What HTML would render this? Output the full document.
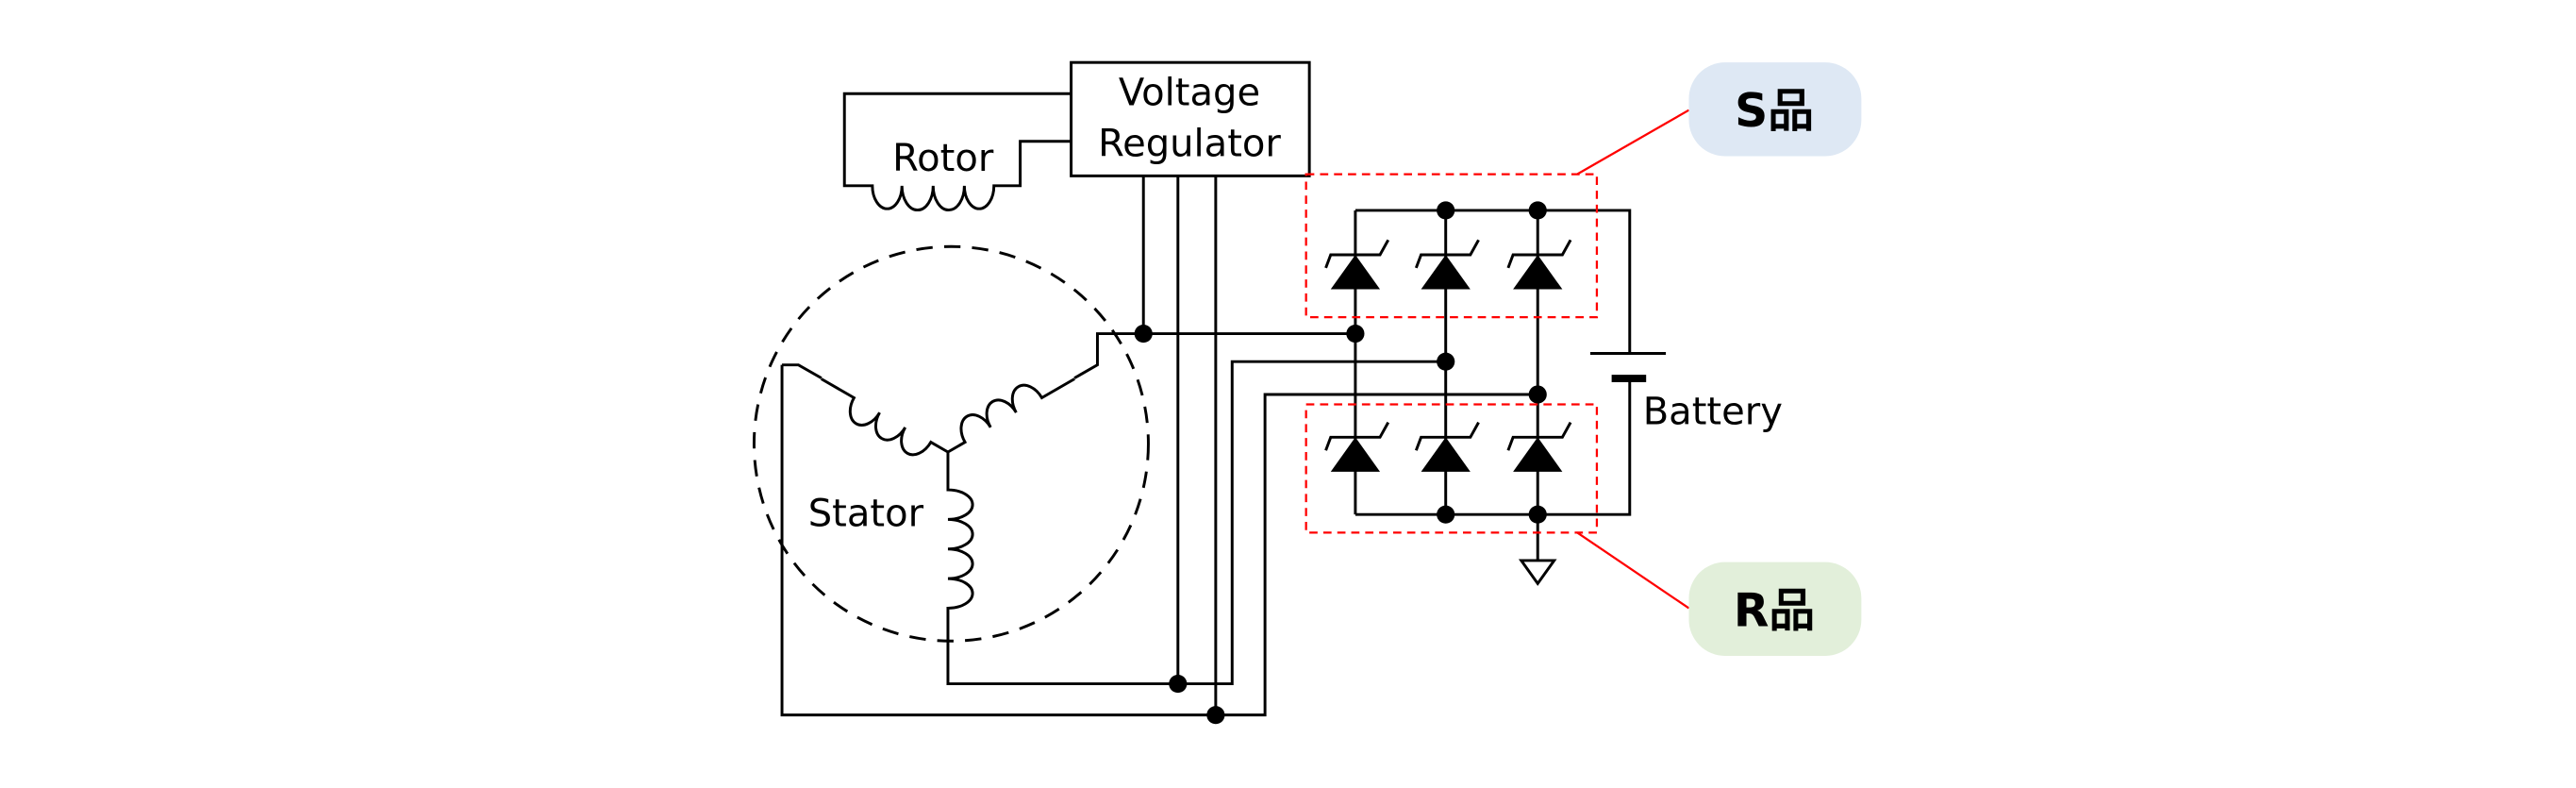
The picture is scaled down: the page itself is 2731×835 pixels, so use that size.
<!DOCTYPE html>
<html><head><meta charset="utf-8"><style>
html,body{margin:0;padding:0;background:#fff;}
svg{display:block;}
text{font-family:"DejaVu Sans","Liberation Sans",sans-serif;}
</style></head><body>
<svg width="2731" height="835" viewBox="0 0 1568 479.4" preserveAspectRatio="none" xmlns="http://www.w3.org/2000/svg">
<g fill="none" stroke="#000" stroke-width="1.7">
<rect x="652" y="38" width="145" height="69"/>
<path d="M652 57 H514 V113 H531 A9 14 0 0 0 549 113 A9 14 0 0 0 568 113 A9 14 0 0 0 587 113 A9 14 0 0 0 605 113 H621 V86 H652"/>
<circle cx="579" cy="270" r="120" stroke-dasharray="10,7"/>
<g transform="translate(577,275) rotate(-150)">
<path d="M0 0 H12 A9 13 0 0 1 30 0 A9 13 0 0 1 48 0 A9 13 0 0 1 66 0 H89"/>
</g>
<path d="M500 230 L486 222 H476"/>
<g transform="translate(577,275) rotate(-30)">
<path d="M0 0 H12 A9 13 0 0 1 30 0 A9 13 0 0 1 48 0 A9 13 0 0 1 66 0 H89"/>
</g>
<path d="M577 275 V298 A15 9 0 0 1 577 316 A15 9 0 0 1 577 334 A15 9 0 0 1 577 352 A15 9 0 0 1 577 370 V416 H750 V220 H880"/>
<path d="M654 230 L668 222 V203 H825"/>
<path d="M476 222 V435 H770 V240 H936"/>
<path d="M696 107 V203 M717 107 V416 M740 107 V435"/>
<path d="M825 128 V313 M880 128 V313 M936 128 V341 M825 128 H992 V215 M968 215 H1014 M992 230 V313 H825"/>
<path d="M926 341 H946 L936 355 Z"/>
<path d="M807 163 L810 155 H840 L845 146 M862 163 L865 155 H895 L900 146 M918 163 L921 155 H951 L956 146"/>
<path d="M807 274 L810 266 H840 L845 257 M862 274 L865 266 H895 L900 257 M918 274 L921 266 H951 L956 257"/>
</g>
<rect x="981" y="228" width="21" height="4.5" fill="#000"/>
<g fill="#000">
<path d="M825 155 L810 176 H840Z M880 155 L865 176 H895Z M936 155 L921 176 H951Z"/>
<path d="M825 266 L810 287 H840Z M880 266 L865 287 H895Z M936 266 L921 287 H951Z"/>
<circle cx="880" cy="128" r="5.5"/><circle cx="936" cy="128" r="5.5"/>
<circle cx="880" cy="313" r="5.5"/><circle cx="936" cy="313" r="5.5"/>
<circle cx="696" cy="203" r="5.5"/><circle cx="825" cy="203" r="5.5"/>
<circle cx="880" cy="220" r="5.5"/><circle cx="936" cy="240" r="5.5"/>
<circle cx="717" cy="416" r="5.5"/><circle cx="740" cy="435" r="5.5"/>
</g>
<g fill="none" stroke="#f00" stroke-width="1.3">
<rect x="795" y="106" width="177" height="87" stroke-dasharray="5,3.5"/>
<rect x="795" y="246" width="177" height="78" stroke-dasharray="5,3.5"/>
<path d="M960 106 L1028 67 M960 324 L1028 370"/>
</g>
<rect x="1028" y="38" width="105" height="57" rx="22" fill="#dee8f4"/>
<rect x="1028" y="342" width="105" height="57" rx="22" fill="#e2efda"/>
<g font-size="23" fill="#000">
<text x="724" y="64" text-anchor="middle">Voltage</text>
<text x="724" y="95" text-anchor="middle">Regulator</text>
<text x="574" y="104" text-anchor="middle">Rotor</text>
<text x="527" y="320" text-anchor="middle">Stator</text>
<text x="1000" y="258">Battery</text>
</g>
<g font-size="28" font-weight="bold" fill="#000" style="font-family:'Liberation Sans','Noto Sans CJK JP',sans-serif">
<text x="1080" y="77" text-anchor="middle">S品</text>
<text x="1080" y="381" text-anchor="middle">R品</text>
</g>
</svg>
</body></html>
